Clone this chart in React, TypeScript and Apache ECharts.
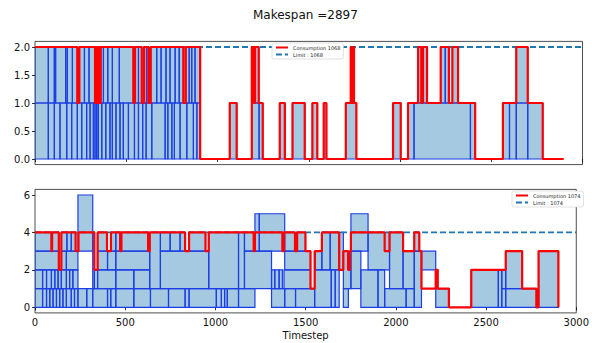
import React, { useEffect, useRef } from "react";
import * as echarts from "echarts";

// ---------- Top subplot data ----------
const topLevel0: [number, number][] = [
  [0, 73], [73, 106], [106, 137], [137, 174], [174, 201], [201, 232], [232, 256], [256, 283],
  [283, 302], [302, 320], [320, 329], [329, 338], [338, 347], [347, 366], [366, 388], [388, 411],
  [411, 424], [424, 444], [444, 466], [466, 484], [484, 512], [512, 545], [545, 567], [567, 590],
  [590, 609], [609, 640], [640, 713], [713, 728], [728, 750], [750, 764], [764, 795], [795, 832],
  [832, 868], [868, 887], [887, 905],
  [1067, 1105], [1188, 1228], [1228, 1248], [1341, 1369], [1411, 1478], [1520, 1547], [1582, 1597],
  [1703, 1761], [1962, 2004], [2044, 2077], [2077, 2386], [2386, 2412],
  [2564, 2600], [2600, 2637], [2637, 2700], [2700, 2782],
];
const topLevel1: [number, number][] = [
  [0, 73], [73, 106], [106, 113], [113, 168], [168, 177], [177, 205], [205, 232], [243, 271],
  [271, 296], [296, 329], [336, 342], [350, 354], [360, 375], [375, 399], [399, 424], [424, 462],
  [462, 539], [548, 567], [567, 585], [598, 612], [612, 622], [634, 667], [667, 691], [691, 718],
  [718, 740], [740, 768], [768, 790], [790, 813], [826, 845], [845, 859], [859, 877], [877, 905],
  [1188, 1200], [1206, 1226], [1730, 1737], [1741, 1748], [2099, 2117], [2126, 2148],
  [2223, 2248], [2248, 2268], [2287, 2318], [2637, 2700],
];
const topConsTime = [
  0, 232, 243, 329, 336, 342, 350, 354, 360, 539, 548, 585, 598, 622, 634, 813, 826, 905, 1067, 1105,
  1188, 1200, 1206, 1226, 1248, 1341, 1369, 1411, 1478, 1520, 1547, 1582, 1597, 1703, 1730, 1737,
  1741, 1748, 1761, 1962, 2004, 2044, 2099, 2117, 2126, 2148, 2223, 2268, 2287, 2318, 2412, 2564,
  2637, 2700, 2782, 2897,
];
const topConsValue = [
  2, 1, 2, 1, 2, 1, 2, 1, 2, 1, 2, 1, 2, 1, 2, 1, 2, 0, 1, 0,
  2, 1, 2, 1, 0, 1, 0, 1, 0, 1, 0, 1, 0, 1, 2, 1,
  2, 1, 0, 1, 0, 1, 2, 1, 2, 1, 2, 1, 2, 1, 0, 1,
  2, 1, 0, 0,
];
const topLimit = 2;

// ---------- Bottom subplot data: [start, end, base, height] ----------
const bottomTasks: [number, number, number, number][] = [
  // row 0
  [0, 42, 0, 1], [42, 64, 0, 1], [64, 82, 0, 1], [82, 100, 0, 1], [100, 119, 0, 1], [119, 137, 0, 1],
  [137, 155, 0, 1], [155, 174, 0, 1], [174, 201, 0, 1], [201, 219, 0, 1], [219, 238, 0, 1],
  [238, 287, 0, 1], [287, 320, 0, 1], [320, 402, 0, 1], [402, 420, 0, 1], [420, 448, 0, 1],
  [448, 548, 0, 1], [548, 640, 0, 1], [640, 740, 0, 1], [740, 832, 0, 1], [832, 854, 0, 1],
  [854, 1005, 0, 1], [1005, 1033, 0, 1], [1033, 1051, 0, 1], [1051, 1066, 0, 1], [1066, 1128, 0, 1],
  [1128, 1219, 0, 1], [1311, 1384, 0, 1], [1384, 1444, 0, 1], [1444, 1550, 0, 1], [1709, 1737, 0, 1],
  [1938, 2057, 0, 1], [2057, 2102, 0, 1], [2221, 2294, 0, 1], [2587, 2609, 0, 1], [2609, 2779, 0, 1],
  // row 1
  [0, 42, 1, 1], [42, 64, 1, 1], [64, 91, 1, 1], [91, 110, 1, 1], [110, 128, 1, 1], [128, 146, 1, 1],
  [146, 174, 1, 1], [174, 192, 1, 1], [192, 210, 1, 1], [210, 238, 1, 1], [329, 347, 1, 1],
  [347, 448, 1, 1], [448, 548, 1, 1], [548, 636, 1, 1], [1311, 1329, 1, 1], [1329, 1353, 1, 1],
  [1353, 1371, 1, 1], [1380, 1527, 1, 1], [2221, 2232, 1, 1], [2587, 2609, 1, 1],
  // row 2
  [0, 132, 2, 1], [146, 174, 2, 1], [174, 238, 2, 1], [347, 402, 2, 1], [402, 448, 2, 1],
  [448, 636, 2, 1], [1384, 1527, 2, 1], [1554, 1590, 2, 1], [2142, 2221, 2, 1],
  // row 3
  [0, 91, 3, 1], [95, 132, 3, 1], [146, 177, 3, 1], [177, 201, 3, 1], [201, 225, 3, 1],
  [347, 399, 3, 1], [421, 448, 3, 1], [448, 472, 3, 1], [479, 627, 3, 1], [695, 749, 3, 1],
  [749, 804, 3, 1], [804, 832, 3, 1], [854, 945, 3, 1], [1161, 1212, 3, 1], [1384, 1441, 3, 1],
  [1453, 1499, 3, 1], [2102, 2130, 3, 1],
  // taller tasks
  [238, 320, 3, 3], [320, 329, 1, 3], [636, 695, 1, 3], [695, 963, 1, 2], [963, 1128, 1, 3],
  [1128, 1161, 1, 3], [1161, 1311, 1, 2], [1219, 1243, 3, 2], [1243, 1384, 3, 2],
  [1550, 1642, 0, 2], [1590, 1636, 2, 2], [1636, 1686, 2, 2], [1642, 1664, 0, 2], [1664, 1686, 0, 2],
  [1686, 1709, 2, 2], [1709, 1751, 1, 2], [1751, 1846, 3, 2], [1751, 1806, 1, 2], [1806, 1901, 0, 2],
  [1846, 1965, 2, 2], [1901, 1938, 0, 2], [1965, 2040, 1, 3], [2040, 2102, 1, 2], [2102, 2142, 0, 3],
  [2418, 2568, 0, 2], [2568, 2587, 0, 2], [2609, 2700, 1, 2], [2791, 2901, 0, 3],
];
const bottomConsTime = [
  0, 91, 95, 132, 146, 225, 241, 329, 347, 399, 421, 472, 479, 627, 636, 832, 854, 945, 963, 1212,
  1219, 1371, 1380, 1441, 1453, 1499, 1527, 1550, 1590, 1686, 1709, 1735, 1745, 1751, 1938, 1965,
  2040, 2102, 2130, 2142, 2221, 2232, 2294, 2418, 2609, 2700, 2779, 2791, 2901,
];
const bottomConsValue = [
  4, 3, 4, 2, 4, 3, 4, 2, 4, 3, 4, 3, 4, 3, 4, 3, 4, 3, 4, 3,
  4, 3, 4, 3, 4, 3, 1, 3, 4, 2, 3, 2, 3, 4, 3, 4,
  3, 4, 3, 1, 2, 1, 0, 2, 3, 1, 0, 3, 0,
];
const bottomLimit = 4;

const topTicks = [0, 0.5, 1, 1.5, 2];
const bottomTicks = [0, 2, 4, 6];
const FONT = "DejaVu Sans";

const renderRect = (params: any, api: any) => {
  const p0 = api.coord([api.value(0), api.value(3)]);
  const p1 = api.coord([api.value(1), api.value(2)]);
  return {
    type: "rect",
    shape: { x: p0[0], y: p0[1], width: p1[0] - p0[0], height: p1[1] - p0[1] },
    style: { fill: "rgba(31,119,180,0.4)", stroke: "#1d3de6", lineWidth: 1.2 },
  };
};

export default function App() {
  const ref = useRef<HTMLDivElement>(null);
  useEffect(() => {
    if (!ref.current) return;
    const chart = echarts.init(ref.current, undefined, { renderer: "svg" });
    const topRects = [
      ...topLevel0.map(([s, e]) => [s, e, 0, 1]),
      ...topLevel1.map(([s, e]) => [s, e, 1, 2]),
    ];
    const bottomRects = bottomTasks.map(([s, e, b, h]) => [s, e, b, b + h]);
    const xAxisBase = (gi: number, labels: boolean) => ({
      gridIndex: gi,
      type: "value",
      min: 0,
      max: 3000,
      interval: 500,
      axisLine: { show: false },
      axisTick: { show: true, length: 3, lineStyle: { color: "#000", width: 0.8 } },
      axisLabel: {
        show: labels, fontSize: 10, color: "#111", margin: 5, fontFamily: FONT,
        showMinLabel: true, showMaxLabel: true,
        formatter: (v: number) => String(v),
      },
      splitLine: { show: false },
    });
    const lineLegend = (name: string, v: number, gi: number) => ({
      type: "line", name, xAxisIndex: gi, yAxisIndex: gi,
      data: [[0, v], [3000, v]], symbol: "none", showSymbol: false,
      lineStyle: { color: "#1f77b4", width: 1.8, type: [6, 3] },
      itemStyle: { color: "#1f77b4" }, z: 3, silent: true,
    });
    const consLine = (name: string, t: number[], v: number[], gi: number) => ({
      type: "line", name, xAxisIndex: gi, yAxisIndex: gi, step: "end",
      data: t.map((x, i) => [x, v[i]]), symbol: "none", showSymbol: false,
      lineStyle: { color: "#ff0000", width: 2.2 },
      itemStyle: { color: "#ff0000" }, z: 4, silent: true,
    });
    const legendBase = {
      orient: "vertical", itemWidth: 12, itemHeight: 5, itemGap: 2,
      padding: [2, 3, 2, 3], selectedMode: false,
      itemStyle: { opacity: 0 },
      textStyle: { fontSize: 5, color: "#222", fontFamily: FONT },
      backgroundColor: "#fff", borderColor: "#ccc", borderWidth: 0.6, borderRadius: 2,
    };
    chart.setOption({
      animation: false,
      textStyle: { fontFamily: FONT },
      title: {
        text: "Makespan =2897", left: 248, top: 4,
        textStyle: { fontSize: 12, fontWeight: "normal", color: "#111", fontFamily: FONT },
      },
      legend: [
        { ...legendBase, data: ["Consumption 1068", "Limit : 1068"], left: 272, top: 43 },
        { ...legendBase, data: ["Consumption 1074", "Limit : 1074"], left: 512, top: 191 },
      ],
      grid: [
        { left: 35, right: 9.5, top: 41.4, height: 123.2, show: true, borderColor: "#222", borderWidth: 0.8 },
        { left: 35, right: 9.5, top: 189.4, height: 123.5, show: true, borderColor: "#222", borderWidth: 0.8 },
      ],
      xAxis: [
        xAxisBase(0, false),
        {
          ...xAxisBase(1, true),
          name: "Timestep", nameLocation: "middle", nameGap: 18,
          nameTextStyle: { fontSize: 10, color: "#111", fontFamily: FONT },
        },
      ],
      yAxis: [
        {
          gridIndex: 0, type: "value", min: -0.1, max: 2.1,
          axisLine: { show: false },
          axisTick: { show: true, length: 3, customValues: topTicks, lineStyle: { color: "#000", width: 0.8 } },
          axisLabel: {
            customValues: topTicks, fontSize: 10, color: "#111", margin: 5, fontFamily: FONT,
            formatter: (v: number) => v.toFixed(1),
          },
          splitLine: { show: false },
        },
        {
          gridIndex: 1, type: "value", min: -0.3, max: 6.3,
          axisLine: { show: false },
          axisTick: { show: true, length: 3, customValues: bottomTicks, lineStyle: { color: "#000", width: 0.8 } },
          axisLabel: {
            customValues: bottomTicks, fontSize: 10, color: "#111", margin: 5, fontFamily: FONT,
            formatter: (v: number) => String(Math.round(v)),
          },
          splitLine: { show: false },
        },
      ],
      series: [
        {
          type: "custom", xAxisIndex: 0, yAxisIndex: 0, data: topRects,
          renderItem: renderRect, encode: { x: [0, 1], y: [2, 3] }, z: 1, silent: true, clip: true,
        },
        lineLegend("Limit : 1068", topLimit, 0),
        consLine("Consumption 1068", topConsTime, topConsValue, 0),
        {
          type: "custom", xAxisIndex: 1, yAxisIndex: 1, data: bottomRects,
          renderItem: renderRect, encode: { x: [0, 1], y: [2, 3] }, z: 1, silent: true, clip: true,
        },
        lineLegend("Limit : 1074", bottomLimit, 1),
        consLine("Consumption 1074", bottomConsTime, bottomConsValue, 1),
      ],
    });
    return () => chart.dispose();
  }, []);
  return (
    <div
      ref={ref}
      style={{ position: "fixed", left: 0, top: 0, width: 592, height: 343, background: "#fff" }}
    />
  );
}
